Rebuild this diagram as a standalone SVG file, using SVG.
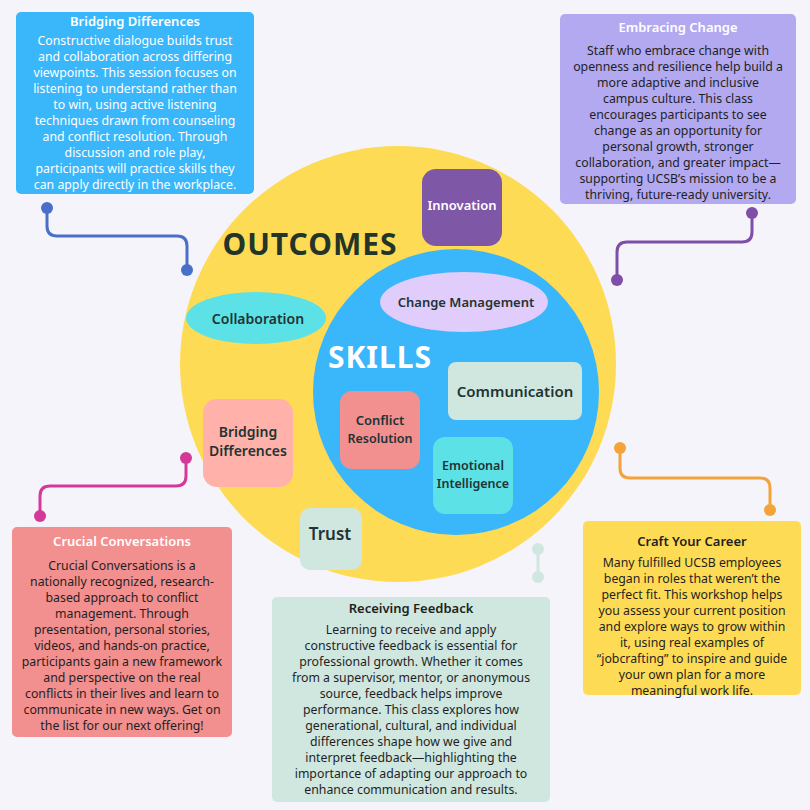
<svg xmlns="http://www.w3.org/2000/svg" width="810" height="810" viewBox="0 0 810 810">
<style>
.t{font-family:"Noto Sans","Open Sans",sans-serif;font-size:12.3px;fill:#1f1f1f;text-anchor:middle}
.tw{fill:#fff}
.h{font-family:"Noto Sans",sans-serif;font-size:13px;font-weight:600;text-anchor:middle}
.n{font-family:"Noto Sans",sans-serif;font-size:14px;font-weight:600;fill:#233;text-anchor:middle}
.c{fill:none;stroke-width:3}
</style>
<rect width="810" height="810" fill="#f6f4fb"/>
<g id="connectors">
<path class="c" stroke="#4a6fc9" d="M47 208V226Q47 236 57 236H177Q187 236 187 246V270"/>
<circle cx="47" cy="208" r="6" fill="#4a6fc9"/><circle cx="187" cy="270" r="6" fill="#4a6fc9"/>
<path class="c" stroke="#7e4ea8" d="M752 213V232Q752 242 742 242H627Q617 242 617 252V280"/>
<circle cx="752" cy="213" r="6" fill="#7e4ea8"/><circle cx="617" cy="280" r="6" fill="#7e4ea8"/>
<path class="c" stroke="#d4399a" d="M186 458V476Q186 486 176 486H50Q40 486 40 496V516"/>
<circle cx="186" cy="458" r="6" fill="#d4399a"/><circle cx="40" cy="516" r="6" fill="#d4399a"/>
<path class="c" stroke="#f2a43a" d="M620 448V468Q620 478 630 478H760Q770 478 770 488V510"/>
<circle cx="620" cy="448" r="6" fill="#f2a43a"/><circle cx="770" cy="510" r="6" fill="#f2a43a"/>
<path class="c" stroke="#cfe7df" d="M538 549V577"/>
<circle cx="538" cy="549" r="6" fill="#cfe7df"/><circle cx="538" cy="577" r="6" fill="#cfe7df"/>
</g>
<g id="outcomes">
<circle cx="398" cy="364" r="218" fill="#fedb55"/>
<text x="310" y="255" font-family="Noto Sans,sans-serif" font-size="30" font-weight="700" fill="#233528" text-anchor="middle" letter-spacing="1">OUTCOMES</text>
</g>
<g id="skills">
<circle cx="456" cy="392" r="143" fill="#3ab6fb"/>
<text x="380" y="368" font-family="Noto Sans,sans-serif" font-size="30" font-weight="700" fill="#fff" text-anchor="middle" letter-spacing="1">SKILLS</text>
</g>
<g id="innovation"><rect x="422" y="169" width="80" height="77" rx="14" fill="#7e57a6"/><text class="n" x="462" y="210" style="fill:#fff;font-size:13px">Innovation</text></g>
<g id="collab"><ellipse cx="256" cy="318" rx="70" ry="26" fill="#5ce1e6"/><text class="n" x="258" y="324">Collaboration</text></g>
<g id="change"><ellipse cx="464" cy="302" rx="84" ry="30" fill="#e0cdfb"/><text class="n" x="466" y="307" style="font-size:13px">Change Management</text></g>
<g id="comm"><rect x="448" y="362" width="134" height="58" rx="8" fill="#cfe7df"/><text class="n" x="515" y="397" style="font-size:15px">Communication</text></g>
<g id="conflict"><rect x="340" y="391" width="80" height="78" rx="12" fill="#f28f8f"/><text class="n" x="380" y="425" style="font-size:13px">Conflict</text><text class="n" x="380" y="443" style="font-size:12.5px">Resolution</text></g>
<g id="ei"><rect x="433" y="437" width="80" height="77" rx="12" fill="#5ce1e6"/><text class="n" x="473" y="470" style="font-size:12.5px">Emotional</text><text class="n" x="473" y="488" style="font-size:12.5px">Intelligence</text></g>
<g id="bridging"><rect x="203" y="399" width="90" height="88" rx="14" fill="#ffb1aa"/><text class="n" x="248" y="437">Bridging</text><text class="n" x="248" y="456">Differences</text></g>
<g id="trust"><rect x="300" y="508" width="62" height="62" rx="10" fill="#cfe7df"/><text class="n" x="330" y="540" style="font-size:17px">Trust</text></g>
<g id="box-bridging">
<rect x="16" y="12" width="238" height="182" rx="5" fill="#3ab6fb"/>
<text class="h" x="135" y="26" fill="#fff">Bridging Differences</text>
<text class="t tw"><tspan x="135" y="45">Constructive dialogue builds trust</tspan><tspan x="135" y="61">and collaboration across differing</tspan><tspan x="135" y="77">viewpoints. This session focuses on</tspan><tspan x="135" y="93">listening to understand rather than</tspan><tspan x="135" y="109">to win, using active listening</tspan><tspan x="135" y="125">techniques drawn from counseling</tspan><tspan x="135" y="141">and conflict resolution. Through</tspan><tspan x="135" y="157">discussion and role play,</tspan><tspan x="135" y="173">participants will practice skills they</tspan><tspan x="135" y="189">can apply directly in the workplace.</tspan></text>
</g>
<g id="box-change">
<rect x="560" y="14" width="236" height="190" rx="5" fill="#b2a9f1"/>
<text class="h" x="678" y="32" fill="#fff">Embracing Change</text>
<text class="t"><tspan x="678" y="55">Staff who embrace change with</tspan><tspan x="678" y="71">openness and resilience help build a</tspan><tspan x="678" y="87">more adaptive and inclusive</tspan><tspan x="678" y="103">campus culture. This class</tspan><tspan x="678" y="119">encourages participants to see</tspan><tspan x="678" y="135">change as an opportunity for</tspan><tspan x="678" y="151">personal growth, stronger</tspan><tspan x="678" y="167">collaboration, and greater impact—</tspan><tspan x="678" y="183">supporting UCSB’s mission to be a</tspan><tspan x="678" y="199">thriving, future-ready university.</tspan></text>
</g>
<g id="box-crucial">
<rect x="12" y="527" width="220" height="210" rx="5" fill="#f28f8f"/>
<text class="h" x="122" y="546" fill="#fff">Crucial Conversations</text>
<text class="t"><tspan x="122" y="570">Crucial Conversations is a</tspan><tspan x="122" y="586">nationally recognized, research-</tspan><tspan x="122" y="602">based approach to conflict</tspan><tspan x="122" y="618">management. Through</tspan><tspan x="122" y="634">presentation, personal stories,</tspan><tspan x="122" y="650">videos, and hands-on practice,</tspan><tspan x="122" y="666">participants gain a new framework</tspan><tspan x="122" y="682">and perspective on the real</tspan><tspan x="122" y="698">conflicts in their lives and learn to</tspan><tspan x="122" y="714">communicate in new ways. Get on</tspan><tspan x="122" y="730">the list for our next offering!</tspan></text>
</g>
<g id="box-feedback">
<rect x="272" y="597" width="278" height="205" rx="5" fill="#cfe7df"/>
<text class="h" x="411" y="613" fill="#1f1f1f">Receiving Feedback</text>
<text class="t"><tspan x="411" y="634">Learning to receive and apply</tspan><tspan x="411" y="650">constructive feedback is essential for</tspan><tspan x="411" y="666">professional growth. Whether it comes</tspan><tspan x="411" y="682">from a supervisor, mentor, or anonymous</tspan><tspan x="411" y="698">source, feedback helps improve</tspan><tspan x="411" y="714">performance. This class explores how</tspan><tspan x="411" y="730">generational, cultural, and individual</tspan><tspan x="411" y="746">differences shape how we give and</tspan><tspan x="411" y="762">interpret feedback—highlighting the</tspan><tspan x="411" y="778">importance of adapting our approach to</tspan><tspan x="411" y="794">enhance communication and results.</tspan></text>
</g>
<g id="box-career">
<rect x="583" y="521" width="218" height="174" rx="5" fill="#fedb55"/>
<text class="h" x="692" y="546" fill="#1f1f1f">Craft Your Career</text>
<text class="t"><tspan x="692" y="567">Many fulfilled UCSB employees</tspan><tspan x="692" y="583">began in roles that weren’t the</tspan><tspan x="692" y="599">perfect fit. This workshop helps</tspan><tspan x="692" y="615">you assess your current position</tspan><tspan x="692" y="631">and explore ways to grow within</tspan><tspan x="692" y="647">it, using real examples of</tspan><tspan x="692" y="663">“jobcrafting” to inspire and guide</tspan><tspan x="692" y="679">your own plan for a more</tspan><tspan x="692" y="695">meaningful work life.</tspan></text>
</g>
</svg>
